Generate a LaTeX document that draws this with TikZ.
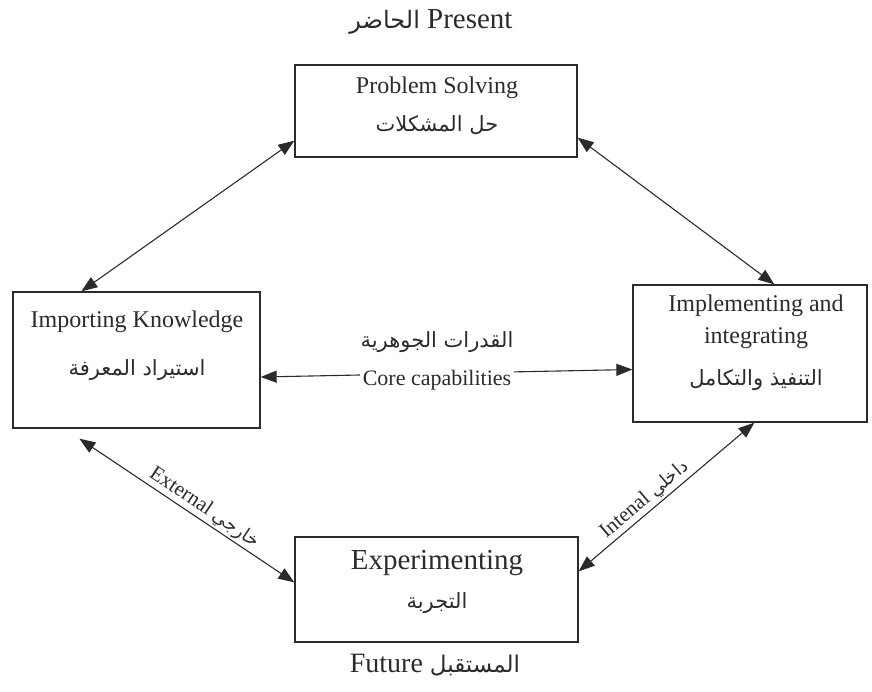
\documentclass[tikz,border=0pt]{standalone}
\usepackage{fontspec}
\setmainfont{Liberation Serif}
\newfontfamily\arabicfont[Script=Arabic]{DejaVu Sans}
\TeXXeTstate=1
\usetikzlibrary{arrows.meta}
\definecolor{inkc}{HTML}{2B2B2B}
\newcommand\artxt[1]{{\arabicfont\beginR #1\endR}}
\begin{document}
\begin{tikzpicture}[x=1pt,y=-1pt,
  box/.style={draw=inkc, line width=1.3pt, inner sep=0pt},
  txt/.style={text=inkc, inner sep=1pt},
  dbl/.style={draw=inkc, line width=1.1pt, {Triangle[length=16pt,width=12pt]}-{Triangle[length=16pt,width=12pt]}},
  lbl/.style={text=inkc, inner sep=2pt, font=\fontsize{21}{24}\selectfont}]
\useasboundingbox (0,0) rectangle (872,691);
% boxes
\node[box, minimum width=282pt, minimum height=92pt] (ps) at (436,111) {};
\node[box, minimum width=247pt, minimum height=136pt] (ik) at (136.5,360) {};
\node[box, minimum width=234pt, minimum height=137pt] (impl) at (750,353.5) {};
\node[box, minimum width=283pt, minimum height=105pt] (exp) at (436.5,589.5) {};
% top / bottom labels
\node[txt, font=\fontsize{29}{32}\selectfont] (present) at (431,22) {\artxt{\fontsize{24}{28}\selectfont الحاضر} Present};
\node[txt, font=\fontsize{28}{32}\selectfont] (future) at (435,665) {Future \artxt{\fontsize{23}{28}\selectfont المستقبل}};
% box texts
\node[txt, font=\fontsize{24}{28}\selectfont] (pst) at (437,88) {Problem Solving};
\node[txt, font=\fontsize{21}{26}\arabicfont] (psa) at (437,125) {\beginR حل المشكلات\endR};
\node[txt, font=\fontsize{24}{28}\selectfont] (ikt) at (137,322) {Importing Knowledge};
\node[txt, font=\fontsize{21}{26}\arabicfont] (ika) at (137,370) {\beginR استيراد المعرفة\endR};
\node[txt, font=\fontsize{24}{28}\selectfont] (implt1) at (756,306) {Implementing and};
\node[txt, font=\fontsize{24}{28}\selectfont] (implt2) at (756,338) {integrating};
\node[txt, font=\fontsize{21}{26}\arabicfont] (impla) at (756,380) {\beginR التنفيذ والتكامل\endR};
\node[txt, font=\fontsize{29}{32}\selectfont] (expt) at (437,563) {Experimenting};
\node[txt, font=\fontsize{21}{26}\arabicfont] (expa) at (437,603) {\beginR التجربة\endR};
% connectors
\draw[dbl] ([yshift=17pt]ps.south west) -- ([xshift=69pt]ik.north west);
\draw[dbl] ([yshift=20pt]ps.south east) -- ([xshift=142pt]impl.north west);
\draw[dbl] ([yshift=-17pt]ik.east) -- ([yshift=-16pt]impl.west);
\node[txt, fill=white, inner xsep=3pt, font=\fontsize{22}{26}\selectfont] (core) at (437,380) {Core capabilities};
\node[txt, font=\fontsize{21}{26}\arabicfont] (corea) at (437,342) {\beginR القدرات الجوهرية\endR};
\draw[dbl] ([xshift=67pt,yshift=-10pt]ik.south west) -- node[lbl, pos=0.55, sloped, above] (ext) {External \artxt{\fontsize{18}{22}\selectfont خارجي}} ([yshift=-46pt]exp.north west);
\draw[dbl] ([yshift=-35pt]exp.north east) -- node[lbl, pos=0.42, sloped, above] (int) {Intenal \artxt{\fontsize{18}{22}\selectfont داخلي}} ([xshift=122pt]impl.south west);
\end{tikzpicture}
\end{document}
